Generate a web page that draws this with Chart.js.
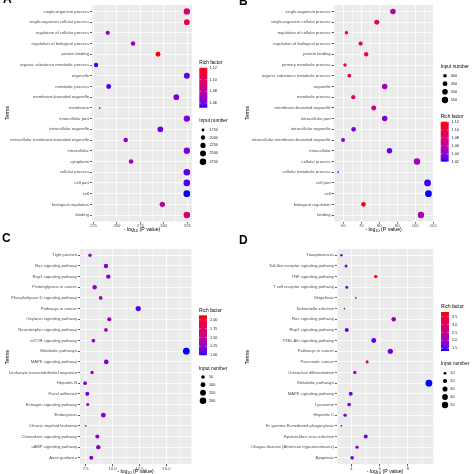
<!DOCTYPE html>
<html><head><meta charset="utf-8">
<script src="https://cdn.jsdelivr.net/npm/chart.js@4/dist/chart.umd.min.js"></script>
<style>
html,body{margin:0;padding:0;background:#fff;width:474px;height:474px;overflow:hidden;position:relative}
canvas{position:absolute}
.lbl{position:absolute;font:bold 12px "Liberation Sans",Arial,sans-serif;line-height:12px;color:#000}
</style></head><body>
<canvas id="cA" width="237" height="237" style="left:0;top:0"></canvas>
<canvas id="cB" width="237" height="237" style="left:237px;top:0"></canvas>
<canvas id="cC" width="237" height="237" style="left:0;top:237px"></canvas>
<canvas id="cD" width="237" height="237" style="left:237px;top:237px"></canvas>
<div class="lbl" style="left:3px;top:-7px">A</div>
<div class="lbl" style="left:239px;top:-5px">B</div>
<div class="lbl" style="left:2px;top:232px">C</div>
<div class="lbl" style="left:239px;top:234px">D</div>
<script>
// ---------- DATA ----------
const termsA = ["single-organism process","single-organism cellular process","regulation of cellular process","regulation of biological process","protein binding","organic substance metabolic process","organelle","metabolic process","membrane-bounded organelle","membrane","intracellular part","intracellular organelle","intracellular membrane-bounded organelle","intracellular","cytoplasm","cellular process","cell part","cell","biological regulation","binding"];
const logPA = [324.5,324.5,240.2,267.2,293.8,227.8,324.5,241.3,313.3,231.7,324.5,296.3,259.4,324.5,265.1,324.5,324.5,324.5,298.4,324.5];
const richA = [1.093,1.100,1.068,1.070,1.1205,1.054,1.058,1.055,1.063,1.110,1.062,1.060,1.068,1.062,1.070,1.057,1.056,1.052,1.079,1.093];
const inputA = [2650,2450,1950,2050,2150,2000,2500,2150,2400,1700,2650,2400,2050,2650,2050,2780,2790,2850,2300,2750];
const xTicksA = [225,250,275,300,325];
const richTicksA = [1.06,1.08,1.10,1.12];
const sizeTicksA = [1750,2000,2250,2500,2750];

const termsB = ["single-organism process","single-organism cellular process","regulation of cellular process","regulation of biological process","protein binding","primary metabolic process","organic substance metabolic process","organelle","metabolic process","membrane-bounded organelle","intracellular part","intracellular organelle","intracellular membrane-bounded organelle","intracellular","cellular process","cellular metabolic process","cell part","cell","biological regulation","binding"];
const logPB = [87.6,78.6,61.7,69.6,72.7,60.9,63.3,83.0,65.5,76.9,83.0,65.7,59.8,85.7,101.0,57.1,106.9,107.4,71.2,103.2];
const richB = [1.060,1.096,1.096,1.100,1.100,1.095,1.090,1.050,1.085,1.070,1.036,1.035,1.040,1.030,1.050,1.045,1.023,1.020,1.121,1.055];
const inputB = [492,460,395,417,428,395,403,492,417,460,492,441,417,492,557,370,588,590,441,557];
const xTicksB = [60,70,80,90,100,110];
const richTicksB = [1.02,1.04,1.06,1.08,1.10,1.12];
const sizeTicksB = [400,450,500,550];

const termsC = ["Tight junction","Ras signaling pathway","Rap1 signaling pathway","Proteoglycans in cancer","Phospholipase D signaling pathway","Pathways in cancer","Oxytocin signaling pathway","Neurotrophin signaling pathway","mTOR signaling pathway","Metabolic pathways","MAPK signaling pathway","Leukocyte transendothelial migration","Hepatitis B","Focal adhesion","Estrogen signaling pathway","Endocytosis","Chronic myeloid leukemia","Chemokine signaling pathway","cAMP signaling pathway","Axon guidance"];
const logPC = [7.90,9.38,9.60,8.33,8.89,12.38,9.69,9.38,8.21,16.85,9.41,8.09,7.44,7.65,7.69,9.14,7.50,8.58,8.67,8.02];
const richC = [1.28,1.18,1.18,1.22,1.32,1.08,1.26,1.30,1.28,0.995,1.17,1.32,1.20,1.17,1.38,1.16,2.13,1.21,1.19,1.22];
const inputC = [46,75,75,75,54,116,65,54,54,215,86,46,54,65,40,86,25,65,75,65];
const xTicksC = [7.5,10.0,12.5,15.0];
const richTicksC = [1.00,1.25,1.50,1.75,2.00];
const sizeTicksC = [50,100,150,200];

const termsD = ["Toxoplasmosis","Toll-like receptor signaling pathway","TNF signaling pathway","T cell receptor signaling pathway","Shigellosis","Salmonella infection","Ras signaling pathway","Rap1 signaling pathway","PI3K-Akt signaling pathway","Pathways in cancer","Pancreatic cancer","Osteoclast differentiation","Metabolic pathways","MAPK signaling pathway","Lysosome","Hepatitis C","Fc gamma R-mediated phagocytosis","Epstein-Barr virus infection","Chagas disease (American trypanosomiasis)","Apoptosis"];
const logPD = [3.29,3.62,5.72,3.67,4.31,3.51,6.99,3.67,5.58,6.75,5.11,4.24,9.48,3.95,3.84,3.55,3.29,5.01,4.40,4.05];
const richD = [1.75,1.75,3.79,1.75,2.8,1.95,1.95,1.6,1.55,1.6,3.2,2.0,1.33,1.65,1.7,1.75,1.85,1.65,2.05,1.7];
const inputD = [9,11,13,11,8,8,23,18,28,31,11,13,58,18,15,13,8,18,13,15];
const xTicksD = [4,6,8];
const richTicksD = [1.5,2.0,2.5,3.0,3.5];
const sizeTicksD = [10,20,30,40,50];

// ---------- COLOUR (Lab interpolation blue -> red) ----------
function s2l(c){c/=255;return c<=0.04045?c/12.92:Math.pow((c+0.055)/1.055,2.4);}
function l2s(c){c=c<=0.0031308?12.92*c:1.055*Math.pow(Math.max(c,0),1/2.4)-0.055;return Math.round(Math.max(0,Math.min(1,c))*255);}
function rgb2lab(c){const [r,g,b]=c.map(s2l);
  const X=(0.4124564*r+0.3575761*g+0.1804375*b)/0.95047,Y=0.2126729*r+0.7151522*g+0.0721750*b,Z=(0.0193339*r+0.1191920*g+0.9503041*b)/1.08883;
  const f=t=>t>0.008856?Math.cbrt(t):7.787*t+16/116;
  return [116*f(Y)-16,500*(f(X)-f(Y)),200*(f(Y)-f(Z))];}
function lab2rgb(L,a,b){const fy=(L+16)/116,fx=fy+a/500,fz=fy-b/200;
  const fi=t=>t*t*t>0.008856?t*t*t:(t-16/116)/7.787;
  const X=0.95047*fi(fx),Y=fi(fy),Z=1.08883*fi(fz);
  return [3.2404542*X-1.5371385*Y-0.4985314*Z,-0.9692660*X+1.8760108*Y+0.0415560*Z,0.0556434*X-0.2040259*Y+1.0572252*Z].map(l2s);}
const LOW=rgb2lab([0,0,255]),HIGH=rgb2lab([255,0,0]);
function gcol(t){t=Math.max(0,Math.min(1,t));const c=lab2rgb(LOW[0]+(HIGH[0]-LOW[0])*t,LOW[1]+(HIGH[1]-LOW[1])*t,LOW[2]+(HIGH[2]-LOW[2])*t);return `rgb(${c[0]},${c[1]},${c[2]})`;}

const FONT='"Liberation Sans", Arial, sans-serif';
function near(a,list){return list.some(v=>Math.abs(v-a)<1e-6);}

function makePanel(id,terms,logP,rich,input,xTicks,richTicks,sizeTicks,L){
  const rMin=Math.min(...rich),rMax=Math.max(...rich);
  const iMin=Math.min(...input),iMax=Math.max(...input);
  const rad=v=>0.9+2.5*Math.sqrt(Math.max(0,(v-iMin)/(iMax-iMin)));
  const col=v=>gcol((v-rMin)/(rMax-rMin));
  const step=xTicks[1]-xTicks[0];
  const allTicks=[];
  for(let v=xTicks[0]-step*2;v<=xTicks[xTicks.length-1]+step*2+1e-9;v+=step/2){if(v>=L.xMin-1e-9&&v<=L.xMax+1e-9)allTicks.push(+v.toFixed(6));}
  const isMaj=v=>near(v,xTicks);
  const txt=(ctx,s,x,y,size,color,align,weight)=>{ctx.font=`${weight||''} ${size}px ${FONT}`;ctx.fillStyle=color;ctx.textAlign=align||'left';ctx.textBaseline='middle';ctx.fillText(s,x,y);};
  const deco={id:'deco'+id,
    beforeDraw(chart){const a=chart.chartArea,c=chart.ctx;c.save();c.fillStyle='#EBEBEB';c.fillRect(a.left,a.top,a.right-a.left,a.bottom-a.top);c.restore();},
    afterDraw(chart){const c=chart.ctx;c.save();
      c.save();c.translate(L.yTitle[0],L.yTitle[1]);c.rotate(-Math.PI/2);txt(c,'Terms',0,0,5.2,'#000','center');c.restore();
      {const fs=5.2,fsub=3.8;c.font=`${fs}px ${FONT}`;const w1=c.measureText('- log').width,w3=c.measureText(' (P value)').width;c.font=`${fsub}px ${FONT}`;const w2=c.measureText('10').width;
       let x=L.xTitle[0]-(w1+w2+w3)/2,y=L.xTitle[1];
       txt(c,'- log',x,y,fs,'#000','left');x+=w1;txt(c,'10',x,y+1.3,fsub,'#000','left');x+=w2;txt(c,' (P value)',x,y,fs,'#000','left');}
      const R=L.rich;txt(c,'Rich factor',R.title[0],R.title[1],4.8,'#000');
      const [bx,by,bw,bh]=R.bar;const g=c.createLinearGradient(0,by+bh,0,by);for(let i=0;i<=20;i++)g.addColorStop(i/20,gcol(i/20));
      c.fillStyle=g;c.fillRect(bx,by,bw,bh);
      richTicks.forEach(v=>{const y=by+bh-(v-rMin)/(rMax-rMin)*bh;c.strokeStyle='#fff';c.lineWidth=0.5;c.beginPath();c.moveTo(bx,y);c.lineTo(bx+1.6,y);c.moveTo(bx+bw-1.6,y);c.lineTo(bx+bw,y);c.stroke();
        txt(c,v.toFixed(R.dec),R.labX,y,3.8,'#222');});
      const S=L.size;txt(c,'Input number',S.title[0],S.title[1],4.8,'#000');
      sizeTicks.forEach((v,i)=>{c.fillStyle='#000';c.beginPath();c.arc(S.dotX,S.ys[i],rad(v),0,Math.PI*2);c.fill();txt(c,String(v),S.labX,S.ys[i],3.8,'#222');});
      c.restore();}
  };
  return new Chart(document.getElementById(id),{
    type:'scatter',
    data:{datasets:[{data:logP.map((v,i)=>({x:v,y:i})),
      pointRadius:c=>rad(input[c.dataIndex]),pointHoverRadius:c=>rad(input[c.dataIndex]),
      backgroundColor:c=>col(rich[c.dataIndex]),borderWidth:0}]},
    options:{responsive:false,animation:false,events:[],devicePixelRatio:1,
      plugins:{legend:{display:false},tooltip:{enabled:false}},
      layout:{padding:{left:0,top:L.top,right:237-L.right,bottom:0}},
      scales:{
        x:{type:'linear',bounds:'data',min:L.xMin,max:L.xMax,
          afterBuildTicks:s=>{s.ticks=allTicks.map(v=>({value:v}));},
          afterFit:s=>{s.height=237-L.bottom;},
          ticks:{autoSkip:false,maxRotation:0,minRotation:0,padding:0,font:{size:4.2,family:FONT},color:'#4D4D4D',
            callback:v=>isMaj(v)?(L.dec?v.toFixed(L.dec):String(v)):''},
          grid:{color:'#FFFFFF',lineWidth:c=>(c.tick&&isMaj(c.tick.value))?0.8:0.4,
            tickColor:c=>(c.tick&&isMaj(c.tick.value))?'#333333':'rgba(0,0,0,0)',tickLength:2},
          border:{display:false}},
        y:{type:'linear',reverse:true,min:-0.6,max:terms.length-0.4,bounds:'data',
          afterBuildTicks:s=>{s.ticks=terms.map((t,i)=>({value:i}));},
          afterFit:s=>{s.width=L.left;},
          ticks:{autoSkip:false,padding:1,font:{size:4.2,family:FONT},color:'#4D4D4D',callback:v=>terms[Math.round(v)]},
          grid:{color:'#FFFFFF',lineWidth:0.8,tickColor:'#333333',tickLength:2},
          border:{display:false}}
      }},
    plugins:[deco]
  });
}

makePanel('cA',termsA,logPA,richA,inputA,xTicksA,richTicksA,sizeTicksA,{
  left:92,right:192,top:5,bottom:221.5,xMin:223.5,xMax:330,dec:0,
  yTitle:[7.3,113],xTitle:[142,230],
  rich:{title:[199.3,62.5],bar:[199.3,67.7,8,40],labX:209.5,dec:2},
  size:{title:[199.3,121],dotX:203,ys:[130,137.5,145.4,153.4,161.7],labX:209.5}});
makePanel('cB',termsB,logPB,richB,inputB,xTicksB,richTicksB,sizeTicksB,{
  left:96.7,right:196.5,top:5,bottom:221.5,xMin:54.6,xMax:110.2,dec:0,
  yTitle:[10.7,113],xTitle:[146.5,230],
  rich:{title:[203.7,116.7],bar:[203.7,121.7,8,40],labX:214.5,dec:2},
  size:{title:[203.7,66.7],dotX:208,ys:[75.7,83.7,91.7,100],labX:213.7}});
makePanel('cC',termsC,logPC,richC,inputC,xTicksC,richTicksC,sizeTicksC,{
  left:80,right:191.4,top:11.9,bottom:227.2,xMin:6.97,xMax:17.32,dec:1,
  yTitle:[7.3,120],xTitle:[135.5,235],
  rich:{title:[199,73.3],bar:[199,78.3,8,40],labX:210,dec:2},
  size:{title:[199,131.7],dotX:203,ys:[140,147.7,155.7,163.7],labX:209}});
makePanel('cD',termsD,logPD,richD,inputD,xTicksD,richTicksD,sizeTicksD,{
  left:100,right:196.3,top:11.9,bottom:227.2,xMin:2.98,xMax:9.79,dec:0,
  yTitle:[10.7,120],xTitle:[148,235],
  rich:{title:[204,69.3],bar:[204,75,8,39],labX:215,dec:1},
  size:{title:[204,126.7],dotX:208,ys:[136.3,144,152,160,168],labX:213.3}});
</script>
</body></html>
